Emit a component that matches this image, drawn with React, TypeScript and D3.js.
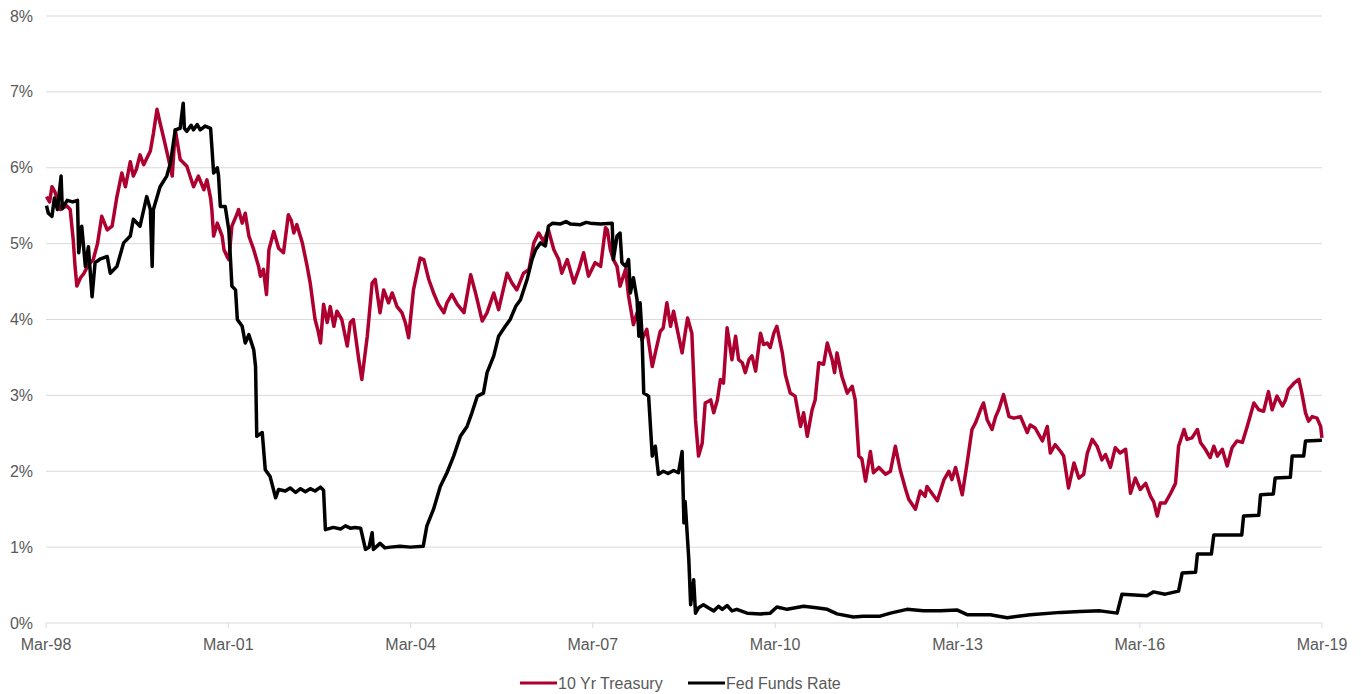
import React from "react";
import * as d3 from "d3";

// Weekly-ish readings, [decimal year, percent]
const treasury10y: [number, number][] = [
  [1998.17, 5.62], [1998.22, 5.55], [1998.26, 5.75], [1998.31, 5.68], [1998.4, 5.45], [1998.5, 5.5],
  [1998.56, 5.45], [1998.61, 5.05], [1998.64, 4.7], [1998.67, 4.44], [1998.73, 4.55], [1998.78, 4.6],
  [1998.86, 4.72], [1998.94, 4.79], [1999.01, 5.0], [1999.08, 5.36], [1999.12, 5.28], [1999.17, 5.18],
  [1999.25, 5.23], [1999.33, 5.62], [1999.41, 5.93], [1999.47, 5.75], [1999.55, 6.08], [1999.6, 5.89],
  [1999.65, 5.98], [1999.71, 6.17], [1999.77, 6.04], [1999.88, 6.22], [1999.93, 6.45], [1999.99, 6.77],
  [2000.04, 6.59], [2000.1, 6.39], [2000.18, 6.11], [2000.24, 5.89], [2000.29, 6.5], [2000.37, 6.11],
  [2000.48, 6.02], [2000.59, 5.75], [2000.67, 5.89], [2000.76, 5.71], [2000.81, 5.84], [2000.87, 5.6],
  [2000.89, 5.45], [2000.92, 5.1], [2000.98, 5.27], [2001.06, 5.1], [2001.09, 4.92], [2001.14, 4.83],
  [2001.17, 4.79], [2001.22, 5.23], [2001.31, 5.4], [2001.33, 5.45], [2001.39, 5.27], [2001.44, 5.4],
  [2001.5, 5.1], [2001.58, 4.92], [2001.66, 4.7], [2001.69, 4.57], [2001.74, 4.66], [2001.79, 4.33],
  [2001.83, 4.92], [2001.91, 5.16], [2001.99, 4.94], [2002.07, 4.88], [2002.15, 5.38], [2002.2, 5.3],
  [2002.24, 5.14], [2002.29, 5.25], [2002.38, 5.01], [2002.46, 4.7], [2002.51, 4.48], [2002.59, 4.0],
  [2002.64, 3.85], [2002.68, 3.69], [2002.73, 4.2], [2002.79, 3.96], [2002.84, 4.17], [2002.9, 3.91],
  [2002.95, 4.11], [2003.03, 4.0], [2003.12, 3.65], [2003.17, 3.96], [2003.22, 4.0], [2003.31, 3.47],
  [2003.36, 3.21], [2003.45, 3.78], [2003.53, 4.48], [2003.58, 4.53], [2003.66, 4.09], [2003.72, 4.39],
  [2003.8, 4.22], [2003.86, 4.35], [2003.94, 4.17], [2004.02, 4.09], [2004.08, 3.95], [2004.13, 3.76],
  [2004.21, 4.39], [2004.32, 4.81], [2004.38, 4.79], [2004.46, 4.53], [2004.54, 4.35], [2004.62, 4.2],
  [2004.71, 4.09], [2004.76, 4.22], [2004.84, 4.33], [2004.93, 4.2], [2005.04, 4.09], [2005.15, 4.59],
  [2005.23, 4.35], [2005.34, 3.98], [2005.42, 4.09], [2005.53, 4.35], [2005.61, 4.13], [2005.75, 4.61],
  [2005.83, 4.48], [2005.91, 4.39], [2006.02, 4.61], [2006.11, 4.66], [2006.19, 5.01], [2006.27, 5.14],
  [2006.35, 5.03], [2006.43, 5.18], [2006.52, 4.92], [2006.6, 4.79], [2006.65, 4.61], [2006.74, 4.79],
  [2006.85, 4.48], [2006.93, 4.66], [2007.01, 4.88], [2007.09, 4.57], [2007.2, 4.75], [2007.29, 4.7],
  [2007.37, 5.21], [2007.4, 5.18], [2007.45, 4.92], [2007.5, 4.79], [2007.56, 4.7], [2007.61, 4.44],
  [2007.7, 4.66], [2007.75, 4.31], [2007.83, 3.93], [2007.89, 4.09], [2007.97, 3.73], [2008.05, 3.87],
  [2008.14, 3.38], [2008.19, 3.56], [2008.27, 3.84], [2008.32, 3.89], [2008.38, 4.22], [2008.44, 3.91],
  [2008.49, 4.11], [2008.55, 3.87], [2008.63, 3.56], [2008.68, 3.82], [2008.72, 4.02], [2008.79, 3.82],
  [2008.85, 2.68], [2008.9, 2.2], [2008.96, 2.37], [2009.01, 2.9], [2009.1, 2.94], [2009.15, 2.77],
  [2009.21, 2.94], [2009.26, 3.21], [2009.31, 3.16], [2009.37, 3.89], [2009.45, 3.47], [2009.51, 3.78],
  [2009.56, 3.47], [2009.62, 3.43], [2009.67, 3.3], [2009.73, 3.47], [2009.78, 3.52], [2009.84, 3.32],
  [2009.92, 3.82], [2009.97, 3.67], [2010.03, 3.69], [2010.08, 3.63], [2010.14, 3.82], [2010.19, 3.91],
  [2010.28, 3.56], [2010.33, 3.27], [2010.41, 3.03], [2010.49, 2.99], [2010.58, 2.59], [2010.63, 2.77],
  [2010.69, 2.46], [2010.77, 2.81], [2010.82, 2.94], [2010.88, 3.43], [2010.96, 3.41], [2011.02, 3.69],
  [2011.07, 3.55], [2011.1, 3.47], [2011.14, 3.3], [2011.18, 3.56], [2011.26, 3.25], [2011.35, 3.03],
  [2011.43, 3.12], [2011.48, 2.94], [2011.54, 2.2], [2011.59, 2.16], [2011.65, 1.87], [2011.73, 2.26],
  [2011.78, 1.98], [2011.87, 2.05], [2011.98, 1.96], [2012.06, 2.0], [2012.14, 2.33], [2012.22, 2.02],
  [2012.31, 1.76], [2012.36, 1.63], [2012.47, 1.5], [2012.55, 1.74], [2012.63, 1.67], [2012.66, 1.8],
  [2012.74, 1.71], [2012.83, 1.61], [2012.94, 1.89], [2013.02, 2.0], [2013.07, 1.89], [2013.13, 2.05],
  [2013.24, 1.69], [2013.32, 2.11], [2013.4, 2.55], [2013.46, 2.64], [2013.54, 2.81], [2013.59, 2.9],
  [2013.65, 2.68], [2013.73, 2.55], [2013.79, 2.72], [2013.84, 2.81], [2013.92, 3.01], [2014.01, 2.72],
  [2014.09, 2.7], [2014.2, 2.72], [2014.31, 2.51], [2014.36, 2.61], [2014.44, 2.57], [2014.56, 2.4],
  [2014.64, 2.59], [2014.69, 2.24], [2014.77, 2.35], [2014.86, 2.26], [2014.91, 2.2], [2014.99, 1.78],
  [2015.08, 2.11], [2015.16, 1.91], [2015.24, 1.96], [2015.3, 2.24], [2015.38, 2.42], [2015.46, 2.33],
  [2015.54, 2.15], [2015.6, 2.22], [2015.68, 2.05], [2015.76, 2.31], [2015.84, 2.24], [2015.93, 2.29],
  [2016.01, 1.71], [2016.09, 1.91], [2016.17, 1.76], [2016.26, 1.84], [2016.34, 1.67], [2016.39, 1.6],
  [2016.45, 1.41], [2016.5, 1.58], [2016.58, 1.58], [2016.67, 1.71], [2016.75, 1.84], [2016.8, 2.33],
  [2016.89, 2.55], [2016.94, 2.42], [2017.02, 2.44], [2017.11, 2.55], [2017.16, 2.38], [2017.24, 2.29],
  [2017.32, 2.18], [2017.38, 2.33], [2017.44, 2.2], [2017.52, 2.29], [2017.6, 2.07], [2017.68, 2.31],
  [2017.76, 2.4], [2017.85, 2.38], [2017.93, 2.59], [2018.04, 2.9], [2018.12, 2.81], [2018.2, 2.79],
  [2018.28, 3.05], [2018.34, 2.81], [2018.42, 2.99], [2018.51, 2.86], [2018.56, 2.94], [2018.61, 3.08],
  [2018.7, 3.16], [2018.78, 3.21], [2018.83, 3.03], [2018.89, 2.77], [2018.94, 2.66], [2019.0, 2.72],
  [2019.08, 2.7], [2019.14, 2.59], [2019.16, 2.44],
];

const fedFunds: [number, number][] = [
  [1998.17, 5.5], [1998.2, 5.4], [1998.26, 5.36], [1998.3, 5.6], [1998.35, 5.45], [1998.41, 5.89],
  [1998.43, 5.46], [1998.51, 5.57], [1998.6, 5.55], [1998.68, 5.57], [1998.7, 4.88], [1998.75, 5.23],
  [1998.81, 4.7], [1998.86, 4.96], [1998.92, 4.3], [1998.97, 4.75], [1999.06, 4.8], [1999.17, 4.83],
  [1999.22, 4.61], [1999.33, 4.7], [1999.44, 5.01], [1999.55, 5.1], [1999.6, 5.32], [1999.71, 5.23],
  [1999.82, 5.62], [1999.88, 5.45], [1999.91, 4.7], [1999.93, 5.45], [2000.04, 5.75], [2000.15, 5.89],
  [2000.21, 6.06], [2000.29, 6.5], [2000.37, 6.52], [2000.42, 6.85], [2000.44, 6.52], [2000.48, 6.48],
  [2000.55, 6.56], [2000.59, 6.5], [2000.65, 6.57], [2000.7, 6.5], [2000.78, 6.55], [2000.87, 6.52],
  [2000.92, 5.93], [2000.98, 6.0], [2001.0, 5.9], [2001.03, 5.49], [2001.11, 5.49], [2001.17, 5.18],
  [2001.2, 4.75], [2001.22, 4.44], [2001.28, 4.39], [2001.31, 4.0], [2001.39, 3.91], [2001.44, 3.69],
  [2001.5, 3.8], [2001.58, 3.6], [2001.61, 3.38], [2001.63, 2.46], [2001.72, 2.51], [2001.77, 2.02],
  [2001.85, 1.93], [2001.94, 1.65], [2001.99, 1.76], [2002.1, 1.74], [2002.18, 1.78], [2002.27, 1.72],
  [2002.35, 1.77], [2002.43, 1.73], [2002.51, 1.77], [2002.59, 1.74], [2002.68, 1.79], [2002.73, 1.75],
  [2002.76, 1.23], [2002.89, 1.26], [2003.01, 1.24], [2003.09, 1.28], [2003.17, 1.25], [2003.25, 1.26],
  [2003.34, 1.25], [2003.42, 0.97], [2003.48, 1.0], [2003.53, 1.19], [2003.55, 0.97], [2003.66, 1.05],
  [2003.74, 0.99], [2003.83, 1.0], [2003.99, 1.01], [2004.16, 1.0], [2004.37, 1.01], [2004.43, 1.28],
  [2004.54, 1.5], [2004.65, 1.8], [2004.76, 1.98], [2004.87, 2.2], [2004.98, 2.46], [2005.09, 2.59],
  [2005.17, 2.77], [2005.26, 2.99], [2005.36, 3.03], [2005.42, 3.3], [2005.53, 3.52], [2005.61, 3.78],
  [2005.72, 3.91], [2005.8, 4.0], [2005.89, 4.17], [2005.97, 4.26], [2006.08, 4.53], [2006.16, 4.79],
  [2006.22, 4.92], [2006.3, 5.01], [2006.38, 4.97], [2006.43, 5.23], [2006.5, 5.27], [2006.63, 5.26],
  [2006.72, 5.29], [2006.79, 5.26], [2006.96, 5.25], [2007.05, 5.28], [2007.12, 5.27], [2007.29, 5.26],
  [2007.48, 5.27], [2007.5, 4.79], [2007.56, 5.1], [2007.61, 5.14], [2007.64, 4.75], [2007.7, 4.7],
  [2007.75, 4.79], [2007.78, 4.35], [2007.83, 4.55], [2007.89, 4.26], [2007.92, 3.78], [2007.94, 4.22],
  [2007.97, 3.82], [2008.0, 3.03], [2008.08, 2.99], [2008.14, 2.2], [2008.19, 2.33], [2008.24, 1.96],
  [2008.32, 2.0], [2008.4, 1.97], [2008.49, 2.01], [2008.57, 1.98], [2008.63, 2.26], [2008.66, 1.32],
  [2008.68, 1.6], [2008.74, 0.84], [2008.77, 0.24], [2008.82, 0.57], [2008.85, 0.13], [2008.9, 0.2],
  [2008.98, 0.24], [2009.06, 0.2], [2009.15, 0.16], [2009.23, 0.22], [2009.29, 0.18], [2009.37, 0.23],
  [2009.45, 0.16], [2009.53, 0.18], [2009.7, 0.13], [2009.92, 0.12], [2010.08, 0.13], [2010.19, 0.21],
  [2010.36, 0.18], [2010.63, 0.22], [2010.84, 0.2], [2011.02, 0.18], [2011.18, 0.12], [2011.45, 0.08],
  [2011.61, 0.09], [2011.89, 0.09], [2012.06, 0.13], [2012.33, 0.18], [2012.6, 0.16], [2012.88, 0.16],
  [2013.16, 0.17], [2013.32, 0.11], [2013.7, 0.11], [2013.98, 0.07], [2014.36, 0.11], [2014.86, 0.14],
  [2015.18, 0.15], [2015.51, 0.16], [2015.79, 0.13], [2015.87, 0.38], [2016.28, 0.36], [2016.39, 0.41],
  [2016.58, 0.38], [2016.8, 0.42], [2016.86, 0.66], [2017.08, 0.67], [2017.11, 0.91], [2017.34, 0.91],
  [2017.38, 1.16], [2017.84, 1.16], [2017.87, 1.41], [2018.12, 1.42], [2018.15, 1.69], [2018.36, 1.7],
  [2018.39, 1.91], [2018.64, 1.92], [2018.67, 2.2], [2018.86, 2.2], [2018.89, 2.4], [2019.16, 2.41],
];

const yTicks = [0, 1, 2, 3, 4, 5, 6, 7, 8];
const xTickYears = [1998, 2001, 2004, 2007, 2010, 2013, 2016, 2019];

const seriesNames = ["10 Yr Treasury", "Fed Funds Rate"];
const seriesColors = ["#AD0030", "#000000"];

const W = 1361;
const H = 694;
const margin = { left: 46, right: 39, top: 16, bottom: 71 };

function yearToDate(t: number): Date {
  const y = Math.floor(t);
  const a = new Date(y, 0, 1).getTime();
  const b = new Date(y + 1, 0, 1).getTime();
  return new Date(a + (t - y) * (b - a));
}

export default function App() {
  const x = d3
    .scaleTime()
    .domain([new Date(1998, 2, 1), new Date(2019, 2, 1)])
    .range([margin.left, W - margin.right]);
  const y = d3
    .scaleLinear()
    .domain([0, 8])
    .range([H - margin.bottom, margin.top]);

  const line = d3
    .line<[number, number]>()
    .x((d) => x(yearToDate(d[0])))
    .y((d) => y(d[1]));

  const fmt = d3.timeFormat("%b-%y");
  const font = "'Liberation Sans', Arial, sans-serif";
  const textColor = "#595959";
  const legendY = 683;

  return (
    <svg
      width={W}
      height={H}
      style={{ position: "absolute", left: 0, top: 0, background: "#fff" }}
      fontFamily={font}
    >
      {/* gridlines */}
      {yTicks.map((t) => (
        <line
          key={"g" + t}
          x1={x.range()[0]}
          x2={x.range()[1]}
          y1={y(t)}
          y2={y(t)}
          stroke="#d9d9d9"
          strokeWidth={1}
        />
      ))}
      {/* y labels */}
      {yTicks.map((t) => (
        <text
          key={"yl" + t}
          x={33}
          y={y(t)}
          dy="0.35em"
          textAnchor="end"
          fontSize={16}
          fill={textColor}
        >
          {t + "%"}
        </text>
      ))}
      {/* x ticks and labels */}
      {xTickYears.map((yr) => {
        const px = x(new Date(yr, 2, 1));
        return (
          <g key={"x" + yr}>
            <line x1={px} x2={px} y1={y(0)} y2={y(0) + 5} stroke="#d9d9d9" />
            <text
              x={px}
              y={y(0) + 27}
              textAnchor="middle"
              fontSize={16}
              fill={textColor}
            >
              {fmt(new Date(yr, 2, 1))}
            </text>
          </g>
        );
      })}
      {/* series */}
      <path
        d={line(treasury10y) || ""}
        fill="none"
        stroke={seriesColors[0]}
        strokeWidth={3.5}
        strokeLinejoin="round"
      />
      <path
        d={line(fedFunds) || ""}
        fill="none"
        stroke={seriesColors[1]}
        strokeWidth={3.5}
        strokeLinejoin="round"
      />
      {/* legend */}
      {seriesNames.map((name, i) => {
        const x0 = i === 0 ? 520 : 688;
        return (
          <g key={name}>
            <line
              x1={x0}
              x2={x0 + 37}
              y1={legendY}
              y2={legendY}
              stroke={seriesColors[i]}
              strokeWidth={3}
            />
            <text
              x={x0 + 38}
              y={legendY}
              dy="0.35em"
              fontSize={16}
              fill={textColor}
            >
              {name}
            </text>
          </g>
        );
      })}
    </svg>
  );
}
